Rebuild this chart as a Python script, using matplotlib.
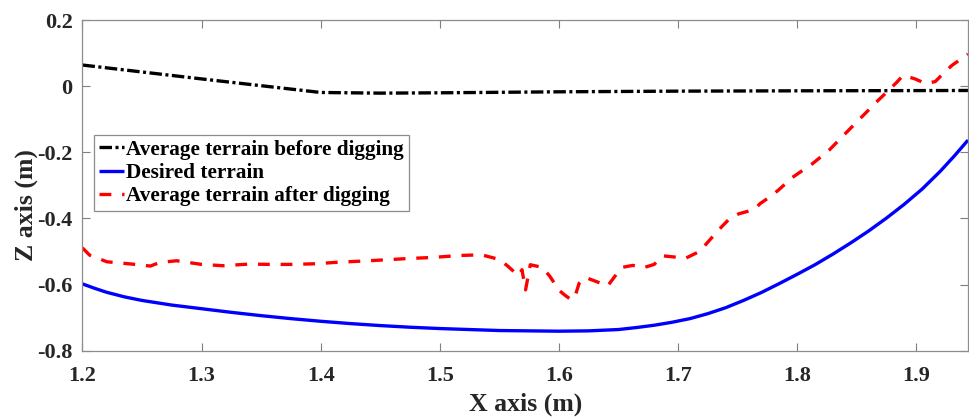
import matplotlib
matplotlib.use("Agg")
import matplotlib.pyplot as plt

plt.rcParams['font.family'] = ['Liberation Serif', 'DejaVu Serif']
plt.rcParams['font.weight'] = 'bold'
plt.rcParams['lines.scale_dashes'] = False

# Average terrain before digging
before_x = [1.200, 1.300, 1.400, 1.450, 1.500, 1.600, 1.700, 1.800, 1.9435]
before_z = [0.064, 0.022, -0.019, -0.021, -0.020, -0.017, -0.015, -0.014, -0.013]

# Desired terrain
desired_x = [1.200, 1.210, 1.220, 1.235, 1.250, 1.275, 1.300, 1.325, 1.350, 1.375,
             1.400, 1.425, 1.450, 1.475, 1.500, 1.525, 1.550, 1.575, 1.600, 1.625,
             1.650, 1.665, 1.680, 1.695, 1.710, 1.725, 1.740, 1.755, 1.770, 1.785,
             1.800, 1.815, 1.830, 1.845, 1.860, 1.875, 1.890, 1.905, 1.920, 1.932,
             1.9435]
desired_z = [-0.598, -0.611, -0.623, -0.637, -0.648, -0.662, -0.673, -0.684, -0.694, -0.703,
             -0.711, -0.718, -0.724, -0.729, -0.733, -0.736, -0.739, -0.740, -0.741, -0.740,
             -0.736, -0.730, -0.723, -0.714, -0.703, -0.688, -0.670, -0.648, -0.624, -0.597,
             -0.569, -0.540, -0.508, -0.474, -0.438, -0.399, -0.357, -0.311, -0.258, -0.211,
             -0.163]

# Average terrain after digging
after_x = [1.200, 1.206, 1.2205, 1.2415, 1.257, 1.265, 1.279, 1.300, 1.318, 1.340,
           1.357, 1.376, 1.396, 1.416, 1.435, 1.455, 1.4745, 1.494, 1.5165, 1.535,
           1.550, 1.557, 1.566, 1.569, 1.572, 1.576, 1.586, 1.592, 1.597, 1.600,
           1.605, 1.610, 1.613, 1.617, 1.622, 1.633, 1.641, 1.647, 1.653, 1.662,
           1.671, 1.680, 1.687, 1.698, 1.706, 1.718, 1.723, 1.734, 1.744, 1.751,
           1.764, 1.769, 1.779, 1.785, 1.796, 1.813, 1.827, 1.843, 1.857, 1.868,
           1.877, 1.884, 1.889, 1.899, 1.908, 1.916, 1.924, 1.930, 1.9435]
after_z = [-0.489, -0.511, -0.531, -0.538, -0.544, -0.533, -0.528, -0.539, -0.543, -0.538,
           -0.539, -0.539, -0.537, -0.532, -0.529, -0.525, -0.521, -0.518, -0.512, -0.510,
           -0.524, -0.544, -0.573, -0.555, -0.616, -0.540, -0.548, -0.573, -0.600, -0.617,
           -0.632, -0.645, -0.642, -0.596, -0.578, -0.593, -0.604, -0.575, -0.548, -0.542,
           -0.549, -0.539, -0.513, -0.517, -0.521, -0.500, -0.480, -0.435, -0.398, -0.386,
           -0.373, -0.355, -0.330, -0.312, -0.276, -0.234, -0.193, -0.134, -0.083, -0.043,
           -0.012, 0.013, 0.033, 0.022, 0.008, 0.014, 0.043, 0.063, 0.097]

x_ticks = [1.2, 1.3, 1.4, 1.5, 1.6, 1.7, 1.8, 1.9]
z_ticks = [0.2, 0.0, -0.2, -0.4, -0.6, -0.8]

fig = plt.figure(figsize=(9.69, 4.18), dpi=100)
ax = fig.add_axes([0.0851, 0.161, 0.9139, 0.791])

axis_gray = '#262626'

ax.plot(before_x, before_z, color='black', lw=2.4,
        linestyle=(0, (9.0, 2.5, 2.2, 2.5)), label='Average terrain before digging')
ax.plot(desired_x, desired_z, color='#0000ff', lw=2.4, solid_capstyle='butt',
        solid_joinstyle='round', label='Desired terrain')
ax.plot(after_x, after_z, color='#ff0000', lw=2.4,
        linestyle=(0, (8.5, 7.8)), label='Average terrain after digging')

ax.set_xlim(1.2, 1.9435)
ax.set_ylim(-0.8, 0.2)
ax.set_xticks(x_ticks)
ax.set_xticklabels([f'{v:.1f}' for v in x_ticks])
ax.set_yticks(z_ticks)
ax.set_yticklabels(['0.2', '0', '-0.2', '-0.4', '-0.6', '-0.8'])

ax.tick_params(direction='in', top=True, right=True, length=6, width=0.8,
               color='#7f7f7f', labelsize=16, labelcolor=axis_gray)
ax.tick_params(axis='x', pad=11)
ax.tick_params(axis='y', pad=7)
for lab in ax.get_xticklabels() + ax.get_yticklabels():
    lab.set_fontweight('bold')
for sp in ax.spines.values():
    sp.set_color('#8c8c8c')
    sp.set_linewidth(0.9)

ax.set_xlabel('X axis (m)', fontsize=18.5, fontweight='bold', color=axis_gray, labelpad=5)
ax.set_ylabel('Z axis (m)', fontsize=18.5, fontweight='bold', color=axis_gray)
ax.yaxis.set_label_coords(-0.050, 0.44)

leg = ax.legend(loc='upper left', bbox_to_anchor=(0.013, 0.652),
                handlelength=1.2, handletextpad=0.1, borderpad=0.22, labelspacing=0.15,
                borderaxespad=0.0, fancybox=False, framealpha=1.0,
                prop={'weight': 'bold', 'size': 15.3})
leg.get_frame().set_edgecolor('#8c8c8c')
leg.get_frame().set_linewidth(0.9)

fig.savefig('out.png', dpi=100)
